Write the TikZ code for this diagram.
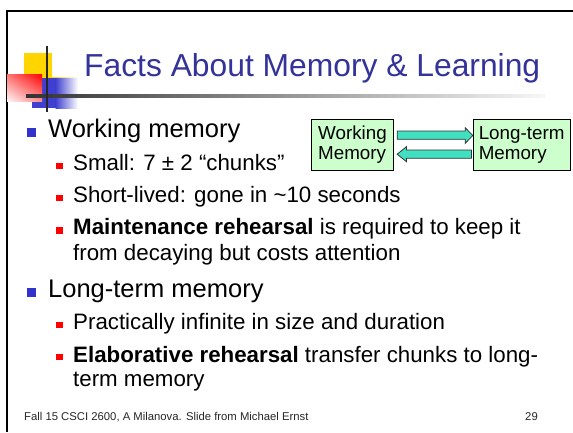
\documentclass[tikz,border=0pt]{standalone}
\usepackage{fontspec}
\setmainfont{Liberation Sans}
\usetikzlibrary{calc,shadings}
\definecolor{titleblue}{RGB}{51,51,153}
\definecolor{bulblue}{RGB}{51,51,204}
\definecolor{boxgreen}{RGB}{204,255,204}
\definecolor{arrowfill}{RGB}{64,224,192}
\definecolor{decoyellow}{RGB}{255,213,0}
\definecolor{decoblue}{RGB}{64,64,208}
\tikzset{
  lvlone/.style={anchor=base west, inner sep=0pt, font=\fontsize{25.5}{30}\selectfont},
  lvltwo/.style={anchor=base west, inner sep=0pt, font=\fontsize{22.3}{26}\selectfont},
  memobox/.style={draw=black, line width=0.9pt, fill=boxgreen, align=left, inner sep=0pt,
    font=\fontsize{18.8}{20}\selectfont},
  blockarrow/.style={draw=black!80, line width=0.8pt, fill=arrowfill, line join=miter},
  bulone/.style={fill=bulblue},
  bultwo/.style={fill=red},
  footstyle/.style={inner sep=0pt, text=black!85, font=\fontsize{11.3}{13}\selectfont},
}
\begin{document}
\begin{tikzpicture}[x=1pt,y=-1pt]
\useasboundingbox (0,0) rectangle (573,432);
\fill[white] (0,0) rectangle (573,432);
% slide frame
\fill[black] (6,9.5) rectangle (573,11.8);
\fill[black] (5.8,9.5) rectangle (8.2,432);
% decoration
\fill[decoyellow] (24,53) rectangle (52,79);
\shade[left color=decoyellow, right color=white] (52,77) rectangle (78,80);
\fill[decoblue] (32,78) rectangle (56,108);
\shade[left color=decoblue, right color=white] (55.5,78) rectangle (78,108);
\shade[upper left=red!55, upper right=red, lower left=red!4, lower right=red!45] (7,74) rectangle (42,101);
\shade[left color=black!80, right color=black!3] (26,94.8) rectangle (545,97.4);
\fill[black!85] (46,46) rectangle (48.4,112);
% title
\node[anchor=base west, inner sep=0pt, text=titleblue, font=\fontsize{31.8}{38}\selectfont] (title) at (84,76) {Facts About Memory \& Learning};
% bullets
\fill[bulone] (27,128) rectangle (36,137);
\node[lvlone] (wm1) at (48,137) {Working memory};
\fill[bultwo] (56,162.5) rectangle (62.5,169);
\node[lvltwo] (s1) at (73,170) {Small: 7 ± 2 “chunks”};
\fill[bultwo] (56,194.5) rectangle (62.5,201);
\node[lvltwo] (s2) at (73,202) {Short-lived: gone in \textasciitilde10 seconds};
\fill[bultwo] (56,227) rectangle (62.5,233.5);
\node[lvltwo] (s3) at (73,234.5) {\textbf{Maintenance rehearsal} is required to keep it};
\node[lvltwo] (s3b) at (73,260.5) {from decaying but costs attention};
\fill[bulone] (27,287.5) rectangle (36,296.5);
\node[lvlone] (lt1) at (48,297) {Long-term memory};
\fill[bultwo] (56,321.5) rectangle (62.5,328);
\node[lvltwo] (s4) at (73,329) {Practically infinite in size and duration};
\fill[bultwo] (56,353.5) rectangle (62.5,360);
\node[lvltwo] (s5) at (73,362) {\textbf{Elaborative rehearsal} transfer chunks to long-};
\node[lvltwo] (s5b) at (73,386) {term memory};
% diagram
\node[memobox, minimum width=81.6pt, minimum height=51.4pt] (wm) at (352.5,145) {Working\\Memory};
\node[memobox, minimum width=96.7pt, minimum height=51.4pt] (lt) at (521.6,145) {Long-term\\Memory};
\draw[blockarrow]
  ([xshift=3.4pt,yshift=14pt]wm.east) -- ([xshift=-7.6pt,yshift=14pt]lt.west)
  -- ([xshift=-7.6pt,yshift=17.3pt]lt.west) -- ([yshift=9.5pt]lt.west)
  -- ([xshift=-7.6pt,yshift=1.7pt]lt.west) -- ([xshift=-7.6pt,yshift=5.7pt]lt.west)
  -- ([xshift=3.4pt,yshift=5.7pt]wm.east) -- cycle;
\draw[blockarrow]
  ([xshift=3.4pt,yshift=-9.2pt]wm.east) -- ([xshift=12.7pt,yshift=-1.7pt]wm.east)
  -- ([xshift=12.7pt,yshift=-5pt]wm.east) -- ([xshift=-1.3pt,yshift=-5pt]lt.west)
  -- ([xshift=-1.3pt,yshift=-13.3pt]lt.west) -- ([xshift=12.7pt,yshift=-13.3pt]wm.east)
  -- ([xshift=12.7pt,yshift=-16.7pt]wm.east) -- cycle;
% footer
\node[footstyle, anchor=base west] (foot) at (24,420) {Fall 15 CSCI 2600, A Milanova. Slide from Michael Ernst};
\node[footstyle, anchor=base east] (pg) at (538,420) {29};
\end{tikzpicture}
\end{document}
